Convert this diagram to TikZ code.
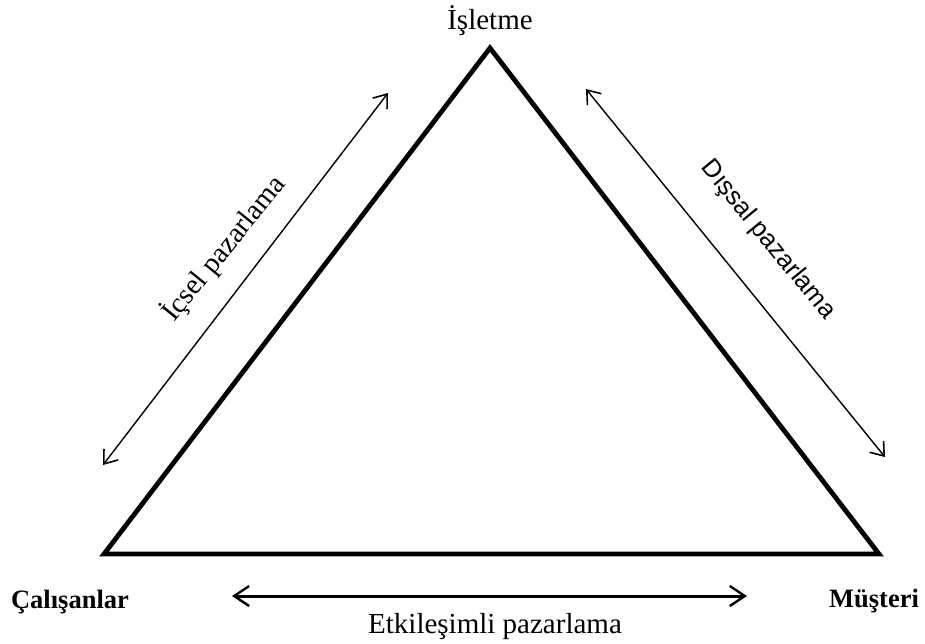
\documentclass[tikz,border=0pt]{standalone}
\usepackage{fontspec}
\setmainfont{Liberation Serif}
\newfontfamily\arialfont{Liberation Sans}
\usetikzlibrary{arrows.meta}
\begin{document}
\begin{tikzpicture}[x=1pt,y=-1pt,
  lbl/.style={font=\fontsize{29}{32}\selectfont, inner sep=0pt},
  cornerlbl/.style={font=\fontsize{26.5}{30}\selectfont\bfseries, inner sep=0pt},
  barb/.tip={Straight Barb[length=12pt,width=18pt,line width=1.6pt]},
  bigbarb/.tip={Straight Barb[length=15pt,width=20pt,line width=2.4pt]},
  dblarrow/.style={line width=1.4pt, barb-barb},
  bigarrow/.style={line width=3pt, bigbarb-bigbarb},
  triedge/.style={line width=4.8pt, line join=miter}]
\useasboundingbox (0,0) rectangle (925,643);
% triangle vertices
\coordinate (top) at (490,48);
\coordinate (bl) at (104,554);
\coordinate (br) at (879,554);
\draw[triedge] (top) -- (bl) -- (br) -- cycle;
% labels
\node[lbl, anchor=base] (isletme) at (490,29) {İşletme};
\node[cornerlbl, anchor=base] (calisanlar) at (70,608) {Çalışanlar};
\node[cornerlbl, anchor=base] (musteri) at (874,607) {Müşteri};
\node[lbl, anchor=base] (etk) at (495,633) {Etkileşimli pazarlama};
% arrow endpoints
\coordinate (la) at (103,465);
\coordinate (lb) at (388,93);
\coordinate (ra) at (586,89);
\coordinate (rb) at (885,457);
\coordinate (ba) at (232,596);
\coordinate (bb) at (747,596);
\draw[dblarrow] (la) -- (lb);
\draw[dblarrow] (ra) -- (rb);
\draw[bigarrow] (ba) -- (bb);
% side labels
\node[lbl, font=\fontsize{28.5}{32}\selectfont, rotate=51] (icsel) at (224,248) {İçsel pazarlama};
\node[lbl, font=\fontsize{25.5}{30}\selectfont\arialfont, rotate=-50.8] (dissal) at (768,240) {Dışsal pazarlama};
\end{tikzpicture}
\end{document}
